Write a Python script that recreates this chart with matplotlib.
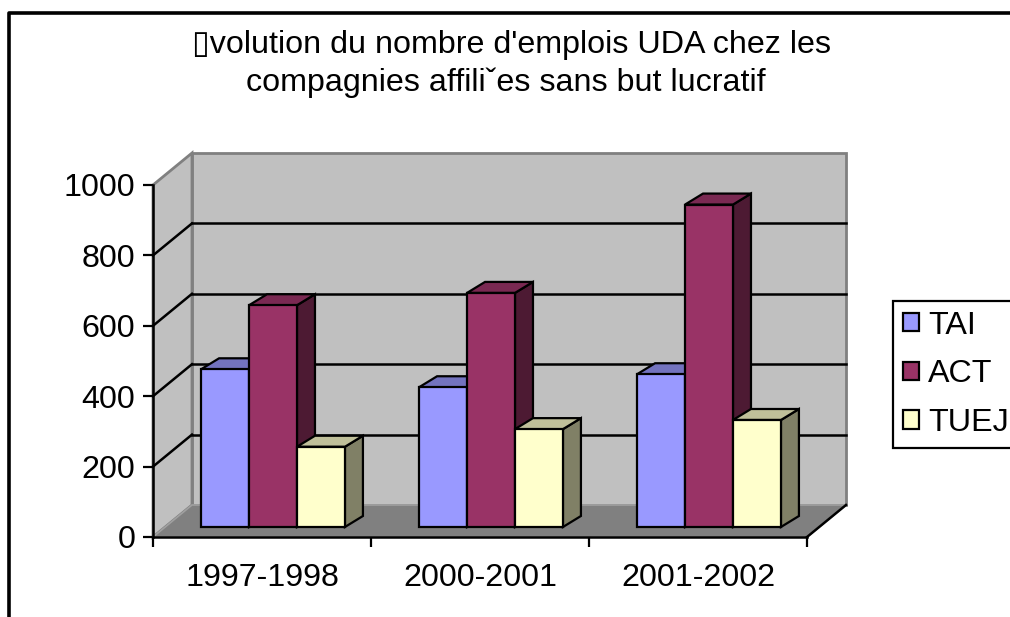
import numpy as np
import matplotlib
matplotlib.use("Agg")
import matplotlib.pyplot as plt
from matplotlib.patches import Polygon, Patch
from matplotlib.lines import Line2D

plt.rcParams['font.family'] = ['Liberation Sans', 'DejaVu Sans']

# data
periods = ["1997-1998", "2000-2001", "2001-2002"]
series_names = ["TAI", "ACT", "TUEJ"]
tai = [448, 397, 434]
act = [630, 665, 916]
tuej = [228, 278, 304]
y_ticks = [0, 200, 400, 600, 800, 1000]

front_cols = ["#9999FF", "#993366", "#FFFFCC"]
top_cols = ["#7373BF", "#7A2952", "#C0C09A"]
side_cols = ["#4C4C80", "#4D1A33", "#808066"]

FS = 23.2

fig = plt.figure(figsize=(10.1, 6.17), dpi=100)
ax = fig.add_axes([153/1010, 80/617, 654/1010, 352/617])
ax.set_xlim(-0.5, 2.5)
ax.set_ylim(0, 1000)
ax.patch.set_visible(False)

# pixel offsets -> data offsets
def px_to_data(dx, dy):
    p0 = ax.transData.transform((0, 0))
    d = ax.transData.inverted().transform(p0 + np.array([dx, dy]))
    return d[0], d[1]

wdx, wdy = px_to_data(39, 32)     # wall depth
fdx, fdy = px_to_data(11, 10)     # bar front plane
bdx, bdy = px_to_data(18, 11)     # bar depth

x0, x1 = -0.5, 2.5
ytop = y_ticks[-1]

# back wall
ax.add_patch(Polygon([(x0+wdx, wdy), (x1+wdx, wdy), (x1+wdx, ytop+wdy), (x0+wdx, ytop+wdy)],
                     closed=True, fc="#C0C0C0", ec="#808080", lw=2, clip_on=False, zorder=1))
for v in y_ticks[1:-1]:
    ax.add_line(Line2D([x0+wdx, x1+wdx], [v+wdy, v+wdy], color="black", lw=1.8, clip_on=False, zorder=2))

# side wall
ax.add_patch(Polygon([(x0, 0), (x0+wdx, wdy), (x0+wdx, ytop+wdy), (x0, ytop)],
                     closed=True, fc="#C0C0C0", ec="#808080", lw=2, clip_on=False, zorder=1.5))
for v in y_ticks[1:-1]:
    ax.add_line(Line2D([x0, x0+wdx], [v, v+wdy], color="black", lw=1.8, clip_on=False, zorder=2))

# floor
ax.add_patch(Polygon([(x0, 0), (x1, 0), (x1+wdx, wdy), (x0+wdx, wdy)],
                     closed=True, fc="#808080", ec="#A0A0A0", lw=1.2, clip_on=False, zorder=2.5))
ax.add_line(Line2D([x1, x1+wdx], [0, wdy], color="black", lw=1.8, clip_on=False, zorder=3))

# bars
w = 0.22
data = [tai, act, tuej]
x = np.arange(len(periods))
z = 4
for i in range(len(periods)):
    for j in range(3):
        v = data[j][i]
        left = x[i] + (j - 1) * w - w / 2 + fdx
        b = fdy
        ax.add_patch(Polygon([(left+w, b), (left+w+bdx, b+bdy), (left+w+bdx, b+v+bdy), (left+w, b+v)],
                             closed=True, fc=side_cols[j], ec="black", lw=1.6, clip_on=False, zorder=z))
        ax.add_patch(Polygon([(left, b+v), (left+w, b+v), (left+w+bdx, b+v+bdy), (left+bdx, b+v+bdy)],
                             closed=True, fc=top_cols[j], ec="black", lw=1.6, clip_on=False, zorder=z))
        ax.bar(left, v, width=w, bottom=b, align="edge", color=front_cols[j],
               edgecolor="black", linewidth=1.6, clip_on=False, zorder=z+0.5)
        z += 1

# axes
for s in ["top", "right"]:
    ax.spines[s].set_visible(False)
for s in ["left", "bottom"]:
    ax.spines[s].set_linewidth(1.8)
    ax.spines[s].set_zorder(20)
ax.set_yticks(y_ticks)
ax.set_yticklabels([str(t) for t in y_ticks])
ax.set_xticks([-0.5, 0.5, 1.5, 2.5])
ax.set_xticklabels([])
ax.set_xticks(x, minor=True)
ax.set_xticklabels(periods, minor=True)
ax.tick_params(axis="y", length=7.2, width=1.6, pad=5.5, labelsize=FS)
ax.tick_params(axis="x", which="major", length=7.2, width=1.6)
ax.tick_params(axis="x", which="minor", length=0, pad=18.5, labelsize=FS)

# title
fig.text(512/1010, 1 - 53/617, "\u25AFvolution du nombre d'emplois UDA chez les",
         ha="center", va="baseline", fontsize=FS)
fig.text(506/1010, 1 - 91/617, "compagnies affili\u02C7es sans but lucratif",
         ha="center", va="baseline", fontsize=FS)

# legend
handles = [Patch(facecolor=c, edgecolor="black", linewidth=1.6) for c in front_cols]
leg = fig.legend(handles, series_names, loc="upper left",
                 bbox_to_anchor=(893/1010, 1 - 301/617), borderaxespad=0,
                 fontsize=FS, handlelength=0.5, handleheight=0.5, handletextpad=0.28,
                 labelspacing=0.58, borderpad=0.3, fancybox=False, framealpha=1)
leg.get_frame().set_edgecolor("black")
leg.get_frame().set_linewidth(1.6)

# chart border (only top and left visible in the picture)
fig.add_artist(Line2D([9/1010, 9/1010, 1.0], [0, 1 - 13/617, 1 - 13/617],
                      color="black", lw=2.6, transform=fig.transFigure))

fig.savefig("out.png", dpi=100)
